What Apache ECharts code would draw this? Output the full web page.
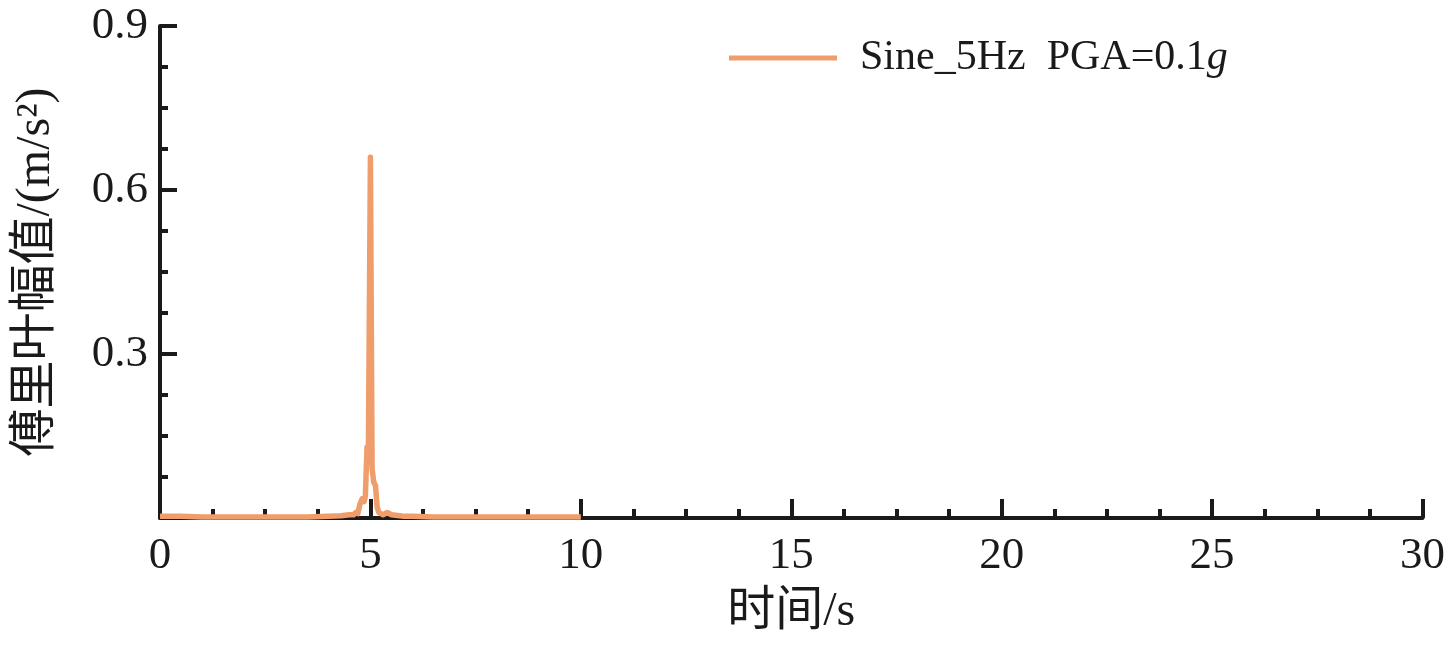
<!DOCTYPE html>
<html>
<head>
<meta charset="utf-8">
<script src="https://cdn.jsdelivr.net/npm/echarts@6/dist/echarts.min.js"></script>
<style>html,body{margin:0;padding:0;background:#fff}#c{width:1448px;height:651px}</style>
</head>
<body>
<div id="c"></div>
<script>
const seriesName = 'Sine_5Hz  PGA=0.1g';
const xValues = [0, 0.5, 1, 1.5, 2, 2.5, 3, 3.5, 4, 4.3, 4.5, 4.6, 4.65, 4.7, 4.75, 4.8, 4.85, 4.88, 4.92, 4.95, 5.0, 5.04, 5.08, 5.12, 5.16, 5.2, 5.25, 5.3, 5.4, 5.5, 5.6, 5.7, 5.8, 6, 6.5, 7, 7.5, 8, 8.5, 9, 9.5, 10];
const yValues = [0.003, 0.003, 0.002, 0.002, 0.002, 0.002, 0.002, 0.002, 0.003, 0.004, 0.006, 0.006, 0.01, 0.008, 0.025, 0.035, 0.03, 0.04, 0.13, 0.1, 0.66, 0.09, 0.065, 0.06, 0.02, 0.01, 0.008, 0.006, 0.01, 0.006, 0.005, 0.004, 0.003, 0.003, 0.002, 0.002, 0.002, 0.002, 0.002, 0.002, 0.002, 0.002];
const xTicks = [0, 5, 10, 15, 20, 25, 30];
const yTicks = [0.3, 0.6, 0.9];

const serif = '"Liberation Serif", "Noto Sans CJK SC", serif';
const axisColor = '#1a1a1a';
const lineColor = '#EF9D6B';

const chart = echarts.init(document.getElementById('c'));
chart.setOption({
  animation: false,
  backgroundColor: '#fff',
  grid: { left: 160, right: 24, top: 26, bottom: 133, containLabel: false },
  legend: {
    left: 724, top: 32,
    itemWidth: 108, itemHeight: 5, icon: 'rect', itemGap: 0,
    data: [seriesName],
    formatter: () => '{n|Sine_5Hz  PGA=0.1}{i|g}',
    textStyle: {
      padding: [0, 0, 0, 18],
      rich: {
        n: { fontFamily: serif, fontSize: 42, color: '#1a1a1a' },
        i: { fontFamily: serif, fontSize: 42, fontStyle: 'italic', color: '#1a1a1a' }
      }
    }
  },
  xAxis: {
    type: 'value', min: 0, max: 30, interval: 5,
    name: '时间/s', nameLocation: 'middle', nameGap: 70,
    nameTextStyle: { fontFamily: serif, fontSize: 48, color: '#1a1a1a' },
    axisLine: { show: true, onZero: false, lineStyle: { color: axisColor, width: 4 } },
    axisTick: { show: true, inside: true, length: 19, lineStyle: { color: axisColor, width: 4 } },
    minorTick: { show: true, splitNumber: 4, length: 9, lineStyle: { color: axisColor, width: 4 } },
    splitLine: { show: false },
    axisLabel: {
      fontFamily: serif, fontSize: 45, color: '#1a1a1a', margin: 16,
      formatter: v => xTicks.includes(v) ? String(v) : ''
    }
  },
  yAxis: {
    type: 'value', min: 0, max: 0.9, interval: 0.3,
    name: '傅里叶幅值/(m/s²)', nameLocation: 'middle', nameGap: 100, nameRotate: 90,
    nameTextStyle: { fontFamily: serif, fontSize: 48, color: '#1a1a1a' },
    axisLine: { show: true, onZero: false, lineStyle: { color: axisColor, width: 4 } },
    axisTick: { show: true, inside: true, length: 17, lineStyle: { color: axisColor, width: 4 } },
    minorTick: { show: true, splitNumber: 4, length: 8, lineStyle: { color: axisColor, width: 4 } },
    splitLine: { show: false },
    axisLabel: {
      fontFamily: serif, fontSize: 45, color: '#1a1a1a', margin: 12,
      formatter: v => {
        const t = yTicks.find(k => Math.abs(k - v) < 1e-9);
        return t === undefined ? '' : t.toFixed(1);
      }
    }
  },
  series: [{
    name: seriesName,
    type: 'line',
    data: xValues.map((x, i) => [x, yValues[i]]),
    showSymbol: false,
    symbol: 'none',
    lineStyle: { color: lineColor, width: 5.5, join: 'round' },
    itemStyle: { color: lineColor },
    z: 1
  }]
});
</script>
</body>
</html>
